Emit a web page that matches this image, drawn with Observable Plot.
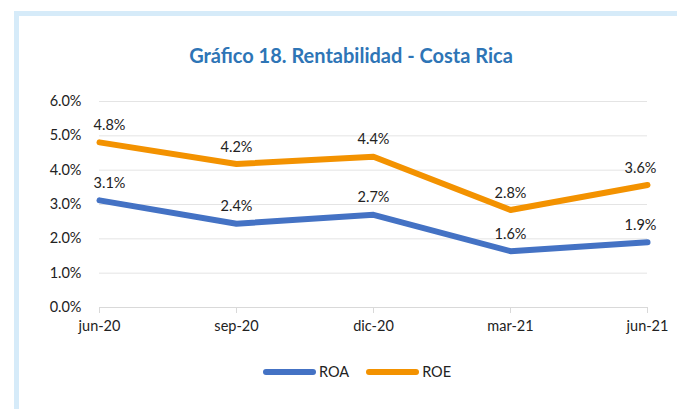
<!DOCTYPE html>
<html><head><meta charset="utf-8">
<script src="https://cdn.jsdelivr.net/npm/d3@7"></script>
<script src="https://cdn.jsdelivr.net/npm/@observablehq/plot@0.6"></script>
<style>
html,body{margin:0;padding:0;background:#fff;}
#wrap{position:relative;width:677px;height:409px;overflow:hidden;font-family:Lato,"Open Sans",sans-serif;}
#frame{position:absolute;left:14px;top:11px;width:700px;height:420px;border-left:5px solid #d6ebf9;border-top:5px solid #d6ebf9;box-sizing:border-box;}
#title{position:absolute;left:0;width:702px;top:43px;text-align:center;font-weight:bold;font-size:20px;color:#2e75b6;}
#chart{position:absolute;left:0;top:0;}
#legend{position:absolute;top:363px;left:263px;font-size:14.5px;color:#222;display:flex;align-items:center;}
.sw{display:inline-block;width:53px;height:6px;border-radius:3px;margin-right:3px;}
.it{display:flex;align-items:center;margin-right:17px;}
</style></head>
<body><div id="wrap"><div id="frame"></div><div id="title">Gráfico 18. Rentabilidad - Costa Rica</div><div id="chart"></div>
<div id="legend"><span class="it"><span class="sw" style="background:#4472c4"></span>ROA</span><span class="it"><span class="sw" style="background:#f39200"></span>ROE</span></div></div>
<script>
const periods = ["jun-20","sep-20","dic-20","mar-21","jun-21"];
const roa = [3.12, 2.44, 2.70, 1.64, 1.90];
const roe = [4.81, 4.18, 4.39, 2.84, 3.57];
const yTicks = [0,1,2,3,4,5,6];
const seriesNames = ["ROA","ROE"];
const colors = ["#4472c4","#f39200"];

const data = [];
periods.forEach((p,i)=>{
  data.push({period:p, series:"ROA", value:roa[i], idx:i});
  data.push({period:p, series:"ROE", value:roe[i], idx:i});
});
const last = periods.length-1;
const labelText = d => d.value.toFixed(1) + "%";
const first = data.filter(d=>d.idx===0), lastD = data.filter(d=>d.idx===last), mid = data.filter(d=>d.idx>0 && d.idx<last);

const chart = Plot.plot({
  width: 677, height: 409,
  marginLeft: 99, marginRight: 30, marginTop: 101, marginBottom: 102,
  style: {fontFamily: "Lato, 'Open Sans', sans-serif", fontSize: "14.5px", color: "#222", background: "transparent"},
  x: {type: "point", domain: periods, label: null, padding: 0},
  y: {domain: [0,6], ticks: yTicks, label: null, tickFormat: d => d.toFixed(1) + "%"},
  color: {domain: seriesNames, range: colors},
  marks: [
    Plot.ruleY(yTicks.filter(t=>t>0), {stroke: "#e4e4e4", strokeWidth: 1}),
    Plot.ruleY([0], {stroke: "#d9d9d9", strokeWidth: 1}),
    Plot.axisY({ticks: yTicks, tickSize: 0, tickPadding: 18, tickFormat: d => d.toFixed(1) + "%", fontSize: 14.5}),
    Plot.axisX({tickSize: 6, tickPadding: 7, stroke: "#d9d9d9", fontSize: 14.5}),
    Plot.line(data, {x: "period", y: "value", z: "series", stroke: "series", strokeWidth: 6, strokeLinecap: "round", strokeLinejoin: "round"}),
    Plot.text(mid, {x: "period", y: "value", text: labelText, dy: -17, fill: "#222", fontSize: 14.5}),
    Plot.text(first, {x: "period", y: "value", text: labelText, dy: -17, dx: 10, fill: "#222", fontSize: 14.5}),
    Plot.text(lastD, {x: "period", y: "value", text: labelText, dy: -17, dx: -7, fill: "#222", fontSize: 14.5})
  ]
});
document.getElementById("chart").appendChild(chart);
</script></body></html>
